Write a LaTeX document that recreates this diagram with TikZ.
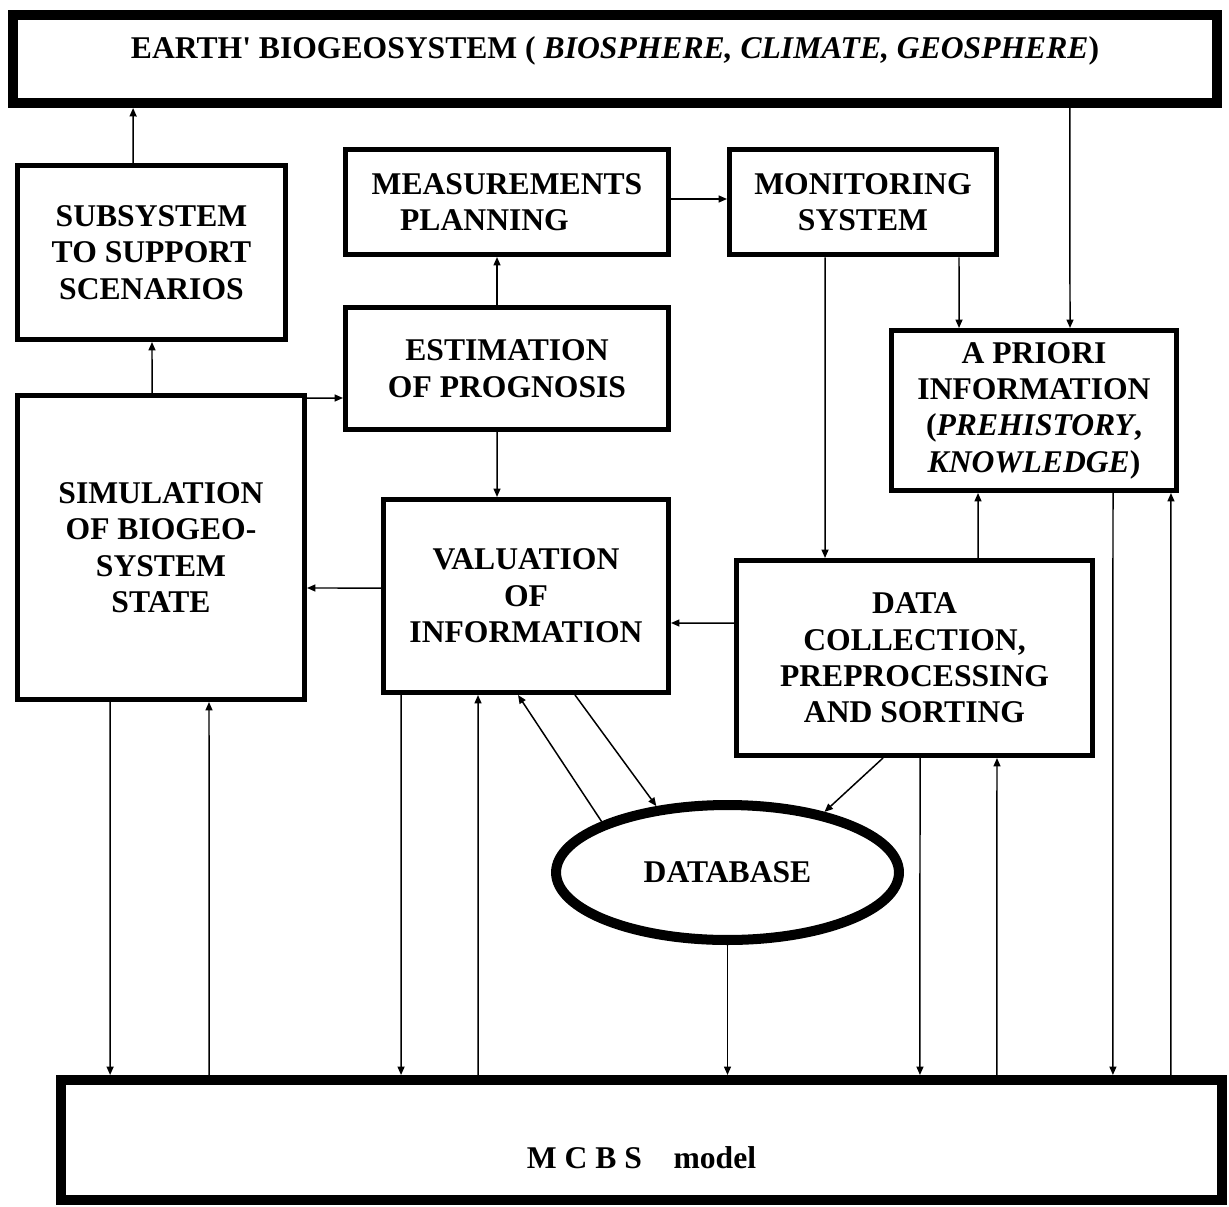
\documentclass[tikz,border=0pt]{standalone}
\usepackage{fontspec}
\setmainfont{Liberation Serif}
\usetikzlibrary{arrows.meta,shapes.geometric}
\begin{document}
\begin{tikzpicture}[x=0.02cm,y=-0.02cm,>={Triangle[length=1.7mm,width=1.4mm]},line join=miter,font=\bfseries\fontsize{18}{20.7}\selectfont,
		box/.style={draw,line width=2.85pt,align=center,inner sep=0pt},
		heavybox/.style={draw,line width=5.7pt,align=center,inner sep=0pt},
		link/.style={->,line width=0.85pt}]
			\useasboundingbox (0,0) rectangle (1229,1206);
			% boxes
			\node [heavybox,minimum width=24.08cm,minimum height=1.76cm,text height=0.35cm,text depth=0.35cm] (earth) at (615,59) {EARTH\textquotesingle{} BIOGEOSYSTEM ( \textit{BIOSPHERE, CLIMATE, GEOSPHERE})};
			\node [box,minimum width=5.36cm,minimum height=3.48cm] (sub) at (151.5,252.5) {SUBSYSTEM\\TO SUPPORT\\SCENARIOS};
			\node [box,minimum width=6.46cm,minimum height=2.1cm] (meas) at (507,202) {MEASUREMENTS\\PLANNING\hspace*{0.9cm}};
			\node [box,minimum width=5.34cm,minimum height=2.12cm] (mon) at (863,202) {MONITORING\\SYSTEM};
			\node [box,minimum width=6.46cm,minimum height=2.44cm] (est) at (507,368.5) {ESTIMATION\\OF PROGNOSIS};
			\node [box,minimum width=5.74cm,minimum height=6.08cm] (sim) at (161,547.5) {SIMULATION\\OF BIOGEO-\\SYSTEM\\STATE};
			\node [box,minimum width=5.7cm,minimum height=3.86cm] (val) at (526,596) {VALUATION\\OF\\INFORMATION};
			\node [box,minimum width=5.7cm,minimum height=3.2cm] (apr) at (1034,410.5) {A PRIORI\\INFORMATION\\(\textit{PREHISTORY},\\\textit{KNOWLEDGE})};
			\node [box,minimum width=7.12cm,minimum height=3.9cm] (data) at (914.5,658) {DATA\\COLLECTION,\\PREPROCESSING\\AND SORTING};
			\node [heavybox,ellipse,minimum width=6.86cm,minimum height=2.7cm] (db) at (727.5,872.5) {DATABASE};
			\node [heavybox,minimum width=23.22cm,minimum height=2.4cm,text height=1.2cm,text depth=0.08cm] (mcbs) at (641.5,1140) {M C B S\quad model};
			% upper links
			\draw [link] ([xshift=-0.37cm]sub.north) -- ([xshift=-9.64cm]earth.south);
			\draw [link] ([xshift=-0.18cm]sim.north) -- ([xshift=0.01cm]sub.south);
			\draw [link] ([yshift=2.99cm]sim.east) -- ([yshift=-0.59cm]est.west);
			\draw [link] ([xshift=-0.2cm]est.north) -- ([xshift=-0.2cm]meas.south);
			\draw [link] ([yshift=0.06cm]meas.east) -- ([yshift=0.06cm]mon.west);
			\draw [link] ([xshift=-0.2cm]est.south) -- ([xshift=-0.58cm]val.north);
			\draw [link] ([yshift=0.16cm]val.west) -- ([yshift=-0.81cm]sim.east);
			\draw [link] ([xshift=9.1cm]earth.south) -- ([xshift=0.72cm]apr.north);
			\draw [link] ([xshift=1.92cm]mon.south) -- ([xshift=-1.5cm]apr.north);
			\draw [link] ([xshift=-0.76cm]mon.south) -- ([xshift=-1.79cm]data.north);
			\draw [link] ([xshift=1.27cm]data.north) -- ([xshift=-1.12cm]apr.south);
			\draw [link] ([yshift=0.7cm]data.west) -- ([yshift=-0.54cm]val.east);
			% database
			\draw [link] ([xshift=-0.63cm]data.south) -- (db.32);
			\draw [link] ([xshift=0.98cm]val.south) -- (db.137);
			\draw [link] (db.158) -- ([xshift=-0.16cm]val.south);
			% links to and from the model
			\draw [link] ([xshift=-1.02cm]sim.south) -- ([xshift=-10.63cm]mcbs.north);
			\draw [link] ([xshift=-8.65cm]mcbs.north) -- ([xshift=0.96cm]sim.south);
			\draw [link] ([xshift=-2.5cm]val.south) -- ([xshift=-4.81cm]mcbs.north);
			\draw [link] ([xshift=-3.27cm]mcbs.north) -- ([xshift=-0.96cm]val.south);
			\draw [link] (db.south) -- (db.south |- mcbs.north);
			\draw [link] ([xshift=0.11cm]data.south) -- ([xshift=5.57cm]mcbs.north);
			\draw [link] ([xshift=7.11cm]mcbs.north) -- ([xshift=1.65cm]data.south);
			\draw [link] ([xshift=1.58cm]apr.south) -- ([xshift=9.43cm]mcbs.north);
			\draw [link] ([xshift=10.59cm]mcbs.north) -- ([xshift=2.74cm]apr.south);
		\end{tikzpicture}
\end{document}
